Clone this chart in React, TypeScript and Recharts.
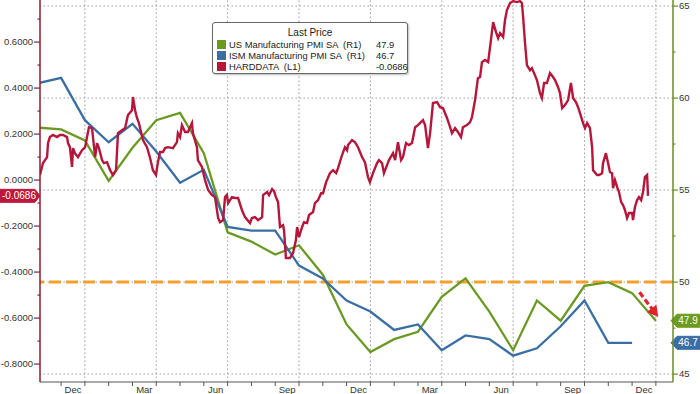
import React from 'react';
import { LineChart, Line, XAxis, YAxis, ReferenceLine, Legend } from 'recharts';

// x positions are months since end of Oct 2021 (monthly prints sit at month end)
const usPmi = [58.4, 58.3, 57.7, 55.5, 57.3, 58.8, 59.2, 57.0, 52.7, 52.2, 51.5, 52.0, 50.4, 47.7, 46.2, 46.9, 47.3, 49.2, 50.2, 48.4, 46.3, 49.0, 47.9, 49.8, 50.0, 49.4, 47.9];
const ismPmi = [60.8, 61.1, 58.8, 57.6, 58.6, 57.1, 55.4, 56.1, 53.0, 52.8, 52.8, 50.9, 50.2, 49.0, 48.4, 47.4, 47.7, 46.3, 47.1, 46.9, 46.0, 46.4, 47.6, 49.0, 46.7, 46.7];

// HARDDATA: [months since end Oct 2021, value]
const hardSeries: [number, number][] = [
  [0.11, 0.022], [0.24, 0.074], [0.41, 0.100], [0.45, 0.161], [0.53, 0.187], [0.66, 0.196], [0.83, 0.187], [0.95, 0.196],
  [1.08, 0.196], [1.25, 0.187], [1.29, 0.161], [1.37, 0.143], [1.46, 0.057], [1.50, 0.139], [1.58, 0.117], [1.71, 0.100],
  [1.88, 0.130], [2.01, 0.143], [2.09, 0.187], [2.17, 0.230], [2.30, 0.226], [2.43, 0.100], [2.51, 0.161], [2.59, 0.139],
  [2.72, 0.087], [2.80, 0.074], [2.93, 0.078], [3.06, 0.043], [3.18, 0.022], [3.31, 0.043], [3.39, 0.204], [3.56, 0.217],
  [3.69, 0.226], [3.81, 0.283], [3.98, 0.304], [4.02, 0.361], [4.11, 0.304], [4.19, 0.270], [4.27, 0.248], [4.44, 0.174],
  [4.61, 0.143], [4.74, 0.096], [4.86, 0.043], [4.99, 0.022], [5.07, 0.078], [5.16, 0.122], [5.28, 0.122], [5.37, 0.139],
  [5.49, 0.143], [5.70, 0.139], [5.87, 0.165], [5.91, 0.204], [6.00, 0.187], [6.08, 0.239], [6.21, 0.209], [6.33, 0.209],
  [6.50, 0.248], [6.54, 0.204], [6.71, 0.143], [6.75, 0.087], [6.92, 0.057], [7.05, 0.000], [7.18, -0.043], [7.34, -0.065],
  [7.47, -0.074], [7.60, -0.165], [7.68, -0.183], [7.81, -0.174], [7.89, -0.074], [7.97, -0.065], [8.02, -0.100], [8.18, -0.074],
  [8.31, -0.078], [8.44, -0.078], [8.60, -0.130], [8.73, -0.161], [8.94, -0.187], [9.02, -0.165], [9.15, -0.161], [9.28, -0.174],
  [9.45, -0.161], [9.49, -0.065], [9.66, -0.052], [9.74, -0.065], [9.87, -0.039], [9.95, -0.048], [10.03, -0.074], [10.12, -0.096],
  [10.20, -0.204], [10.33, -0.196], [10.37, -0.217], [10.45, -0.339], [10.54, -0.339], [10.62, -0.339], [10.75, -0.317], [10.87, -0.261],
  [10.92, -0.204], [11.00, -0.248], [11.13, -0.204], [11.21, -0.183], [11.34, -0.187], [11.42, -0.152], [11.59, -0.139], [11.67, -0.100],
  [11.80, -0.087], [11.93, -0.057], [12.01, -0.057], [12.14, -0.009], [12.30, 0.030], [12.43, 0.043], [12.56, 0.030], [12.64, 0.052],
  [12.81, 0.109], [12.93, 0.143], [13.02, 0.130], [13.06, 0.152], [13.23, 0.174], [13.35, 0.165], [13.48, 0.143], [13.65, 0.100],
  [13.77, 0.078], [13.90, 0.013], [13.98, -0.009], [14.11, 0.030], [14.28, 0.074], [14.36, 0.087], [14.49, 0.074], [14.57, 0.030],
  [14.70, 0.065], [14.78, 0.087], [14.95, 0.117], [15.04, 0.087], [15.16, 0.165], [15.29, 0.087], [15.37, 0.100], [15.50, 0.161],
  [15.62, 0.152], [15.75, 0.161], [15.88, 0.230], [16.00, 0.239], [16.21, 0.261], [16.30, 0.239], [16.42, 0.139], [16.51, 0.204],
  [16.63, 0.335], [16.80, 0.339], [16.93, 0.317], [17.05, 0.313], [17.22, 0.270], [17.35, 0.230], [17.43, 0.204], [17.56, 0.226],
  [17.68, 0.209], [17.81, 0.187], [17.89, 0.230], [18.06, 0.239], [18.19, 0.252], [18.27, 0.274], [18.40, 0.348], [18.52, 0.443],
  [18.61, 0.448], [18.69, 0.513], [18.82, 0.522], [18.95, 0.513], [19.03, 0.578], [19.16, 0.687], [19.28, 0.643], [19.37, 0.617],
  [19.45, 0.639], [19.58, 0.622], [19.66, 0.696], [19.74, 0.739], [19.87, 0.770], [20.00, 0.778], [20.16, 0.774], [20.29, 0.778],
  [20.37, 0.770], [20.42, 0.709], [20.50, 0.596], [20.58, 0.500], [20.71, 0.478], [20.79, 0.487], [20.88, 0.465], [21.00, 0.435],
  [21.13, 0.378], [21.21, 0.357], [21.30, 0.422], [21.42, 0.422], [21.55, 0.465], [21.68, 0.448], [21.76, 0.435], [21.89, 0.404],
  [21.97, 0.378], [22.06, 0.313], [22.18, 0.326], [22.31, 0.348], [22.43, 0.422], [22.52, 0.357], [22.64, 0.339], [22.73, 0.317],
  [22.81, 0.291], [22.94, 0.248], [23.02, 0.226], [23.11, 0.248], [23.23, 0.226], [23.32, 0.143], [23.36, 0.043], [23.53, 0.022],
  [23.61, 0.022], [23.74, 0.030], [23.78, 0.074], [23.90, 0.117], [23.99, 0.074], [24.07, 0.035], [24.16, 0.030], [24.20, -0.035],
  [24.28, 0.000], [24.37, -0.030], [24.45, -0.052], [24.54, -0.096], [24.62, -0.109], [24.70, -0.130], [24.79, -0.165], [24.87, -0.143],
  [25.00, -0.143], [25.04, -0.174], [25.12, -0.117], [25.21, -0.087], [25.29, -0.074], [25.38, -0.087], [25.46, -0.052], [25.54, 0.013],
  [25.63, 0.022], [25.67, -0.0686],
];

const xDomain: [number, number] = [0.113, 26.72];
const xMonthTicks = [1, 2, 3, 4, 5, 6, 7, 8, 9, 10, 11, 12, 13, 14, 15, 16, 17, 18, 19, 20, 21, 22, 23, 24, 25, 26];
const xLabelPos = [1.5, 4.5, 7.5, 10.5, 13.5, 16.5, 19.5, 22.5, 25.5];
const xLabelText = ['Dec', 'Mar', 'Jun', 'Sep', 'Dec', 'Mar', 'Jun', 'Sep', 'Dec'];
const quarterGrid = [2, 5, 8, 11, 14, 17, 20, 23, 26];

const leftDomain: [number, number] = [-0.878, 0.783];
const leftTicks = [-0.8, -0.7, -0.6, -0.5, -0.4, -0.3, -0.2, -0.1, 0, 0.1, 0.2, 0.3, 0.4, 0.5, 0.6, 0.7];
const rightDomain: [number, number] = [44.57, 65.33];
const rightTicks = [45, 47.5, 50, 52.5, 55, 57.5, 60, 62.5, 65];
const rightGrid = [45, 50, 55, 60, 65];
const threshold = 50;

const legendTitle = 'Last Price';
const legendNames = ['US Manufacturing PMI SA  (R1)', 'ISM Manufacturing PMI SA  (R1)', 'HARDDATA  (L1)'];
const legendValues = ['47.9', '46.7', '-0.0686'];

const arrowFrom = { x: 25.31, y: 49.45 };
const arrowTo = { x: 26.1, y: 48.1 };

const GREEN = '#6b9a22';
const BLUE = '#3b6fa3';
const RED = '#b5173b';
const ORANGE = '#f5a02c';
const ARROW_RED = '#e3232b';
const GRID = '#9a9a9a';
const FONT = '"Liberation Sans", Arial, sans-serif';
const FS = 9.5;
const LFS = 9.4;
const colors = [GREEN, BLUE, RED];

const pmiData = usPmi.map((v, i) => ({ t: i, us: v, ism: i < ismPmi.length ? ismPmi[i] : null }));
const hardData = hardSeries.map(([t, v]) => ({ t, v }));

const XTick = (props: any) => {
  const { x, y, payload } = props;
  const li = xLabelPos.indexOf(payload.value);
  if (li >= 0) {
    return (
      <text x={x} y={y + 10.5} textAnchor="middle" fontSize={FS} fill="#333" fontFamily={FONT}>
        {xLabelText[li]}
      </text>
    );
  }
  return <line x1={x} x2={x} y1={y} y2={y + 4} stroke="#555" strokeWidth={1} />;
};

const LeftTick = (props: any) => {
  const { x, y, payload } = props;
  const v = payload.value as number;
  const major = Math.abs(Math.round(v * 10)) % 2 === 0;
  return (
    <g>
      <line x1={x - (major ? 6 : 2.5)} x2={x} y1={y} y2={y} stroke="#8e1b33" strokeWidth={1.2} />
      {major && (
        <text x={x - 7} y={y} dy="0.35em" textAnchor="end" fontSize={FS} fill="#333" fontFamily={FONT}>
          {v.toFixed(4)}
        </text>
      )}
    </g>
  );
};

const RightTick = (props: any) => {
  const { x, y, payload } = props;
  const v = payload.value as number;
  const major = v % 5 === 0;
  return (
    <g>
      <line x1={x} x2={x + (major ? 5 : 2.5)} y1={y} y2={y} stroke="#6d8a22" strokeWidth={1.2} />
      {major && (
        <text x={x + 6} y={y} dy="0.35em" textAnchor="start" fontSize={FS} fill="#333" fontFamily={FONT}>
          {v}
        </text>
      )}
    </g>
  );
};

const LeftBadge = (text: string, fill: string) => (p: any) => {
  const vb = p.viewBox || {};
  const xr = vb.x;
  const y = vb.y;
  const pts = `${xr - 40},${y - 6.5} ${xr - 5},${y - 6.5} ${xr},${y} ${xr - 5},${y + 6.5} ${xr - 40},${y + 6.5}`;
  return (
    <g>
      <polygon points={pts} fill={fill} strokeLinejoin="round" stroke={fill} strokeWidth={1} />
      <text x={xr - 21} y={y} dy="0.36em" textAnchor="middle" fontSize={FS + 0.5} fill="#fff" fontFamily={FONT}>
        {text}
      </text>
    </g>
  );
};

const RightBadge = (text: string, fill: string) => (p: any) => {
  const vb = p.viewBox || {};
  const xl = vb.x + vb.width - 2;
  const y = vb.y;
  const pts = `${xl},${y} ${xl + 6},${y - 6.5} ${xl + 30},${y - 6.5} ${xl + 30},${y + 6.5} ${xl + 6},${y + 6.5}`;
  return (
    <g>
      <polygon points={pts} fill={fill} strokeLinejoin="round" stroke={fill} strokeWidth={1} />
      <text x={xl + 17} y={y} dy="0.36em" textAnchor="middle" fontSize={FS + 0.5} fill="#fff" fontFamily={FONT}>
        {text}
      </text>
    </g>
  );
};

const ArrowShape = (p: any) => {
  const { x1, y1, x2, y2 } = p;
  const dx = x2 - x1;
  const dy = y2 - y1;
  const len = Math.hypot(dx, dy) || 1;
  const ux = dx / len;
  const uy = dy / len;
  const head = 11;
  const hw = 6;
  const bx = x2 - ux * head;
  const by = y2 - uy * head;
  return (
    <g>
      <line x1={x1} y1={y1} x2={bx + ux * 1} y2={by + uy * 1} stroke={ARROW_RED} strokeWidth={3.2} strokeDasharray="6 3" />
      <polygon
        points={`${x2},${y2} ${bx - uy * hw},${by + ux * hw} ${bx + uy * hw},${by - ux * hw}`}
        fill={ARROW_RED}
      />
    </g>
  );
};

const LegendBox = () => (
  <div
    style={{
      width: 196,
      height: 52,
      boxSizing: 'border-box',
      border: '1px solid #666',
      borderRadius: 3,
      background: '#fff',
      fontFamily: FONT,
      fontSize: LFS,
      lineHeight: '11px',
      color: '#222',
      position: 'relative',
      boxShadow: '1px 1px 2px rgba(0,0,0,0.25)',
    }}
  >
    <div style={{ position: 'absolute', top: 4, left: 0, width: '100%', textAlign: 'center', fontSize: LFS + 0.6 }}>{legendTitle}</div>
    {legendNames.map((n, i) => (
      <div key={n} style={{ position: 'absolute', top: 15.5 + i * 11, left: 0, width: '100%', height: 11 }}>
        <span style={{ position: 'absolute', left: 4, top: 1, width: 9, height: 9, background: colors[i] }} />
        <span style={{ position: 'absolute', left: 16, top: 0, whiteSpace: 'pre' }}>{n}</span>
        <span style={{ position: 'absolute', left: 163, top: 0, whiteSpace: 'pre' }}>{legendValues[i]}</span>
      </div>
    ))}
  </div>
);

export default function App() {
  const lastHard = hardSeries[hardSeries.length - 1][1];
  return (
    <div style={{ position: 'absolute', left: 0, top: 0, width: 700, height: 394, background: '#fff', fontFamily: FONT }}>
      <LineChart width={700} height={394} margin={{ top: 0, right: 0, bottom: 0, left: 0 }}>
        <XAxis
          dataKey="t"
          type="number"
          domain={xDomain}
          allowDataOverflow
          ticks={[...xMonthTicks, ...xLabelPos]}
          interval={0}
          tick={<XTick />}
          tickLine={false}
          tickSize={0}
          tickMargin={0}
          height={12}
          axisLine={{ stroke: '#555', strokeWidth: 1 }}
        />
        <YAxis
          yAxisId="left"
          orientation="left"
          type="number"
          domain={leftDomain}
          allowDataOverflow
          ticks={leftTicks}
          interval={0}
          tick={<LeftTick />}
          tickLine={false}
          tickSize={0}
          tickMargin={0}
          width={40}
          axisLine={{ stroke: '#8e1b33', strokeWidth: 1.5 }}
        />
        <YAxis
          yAxisId="right"
          orientation="right"
          type="number"
          domain={rightDomain}
          allowDataOverflow
          ticks={rightTicks}
          interval={0}
          tick={<RightTick />}
          tickLine={false}
          tickSize={0}
          tickMargin={0}
          width={27}
          axisLine={{ stroke: '#6d8a22', strokeWidth: 1.5 }}
        />
        {rightGrid.map((g) => (
          <ReferenceLine key={'h' + g} yAxisId="right" y={g} stroke={GRID} strokeWidth={1} strokeDasharray="1.5 2.5" />
        ))}
        {quarterGrid.map((g) => (
          <ReferenceLine key={'v' + g} yAxisId="right" x={g} stroke={GRID} strokeWidth={1} strokeDasharray="1.5 2.5" />
        ))}
        <ReferenceLine yAxisId="right" y={threshold} stroke={ORANGE} strokeWidth={3} strokeDasharray="12 5" />
        <Line
          data={pmiData}
          yAxisId="right"
          dataKey="us"
          stroke={GREEN}
          strokeWidth={2.3}
          dot={false}
          isAnimationActive={false}
          name={legendNames[0]}
        />
        <Line
          data={pmiData}
          yAxisId="right"
          dataKey="ism"
          stroke={BLUE}
          strokeWidth={2.3}
          dot={false}
          isAnimationActive={false}
          name={legendNames[1]}
        />
        <Line
          data={hardData}
          yAxisId="left"
          dataKey="v"
          stroke={RED}
          strokeWidth={2.4}
          dot={false}
          isAnimationActive={false}
          name={legendNames[2]}
        />
        <ReferenceLine
          yAxisId="right"
          segment={[arrowFrom, arrowTo]}
          ifOverflow="visible"
          shape={ArrowShape}
        />
        <ReferenceLine yAxisId="left" y={lastHard} stroke="none" ifOverflow="visible" label={LeftBadge(legendValues[2], '#c0173e')} />
        <ReferenceLine yAxisId="right" y={usPmi[usPmi.length - 1]} stroke="none" ifOverflow="visible" label={RightBadge(legendValues[0], GREEN)} />
        <ReferenceLine yAxisId="right" y={ismPmi[ismPmi.length - 1]} stroke="none" ifOverflow="visible" label={RightBadge(legendValues[1], BLUE)} />
        <Legend
          layout="vertical"
          align="center"
          verticalAlign="middle"
          content={<LegendBox />}
          wrapperStyle={{ position: 'absolute', left: 212, top: 22, width: 196, height: 52 }}
        />
      </LineChart>
    </div>
  );
}
